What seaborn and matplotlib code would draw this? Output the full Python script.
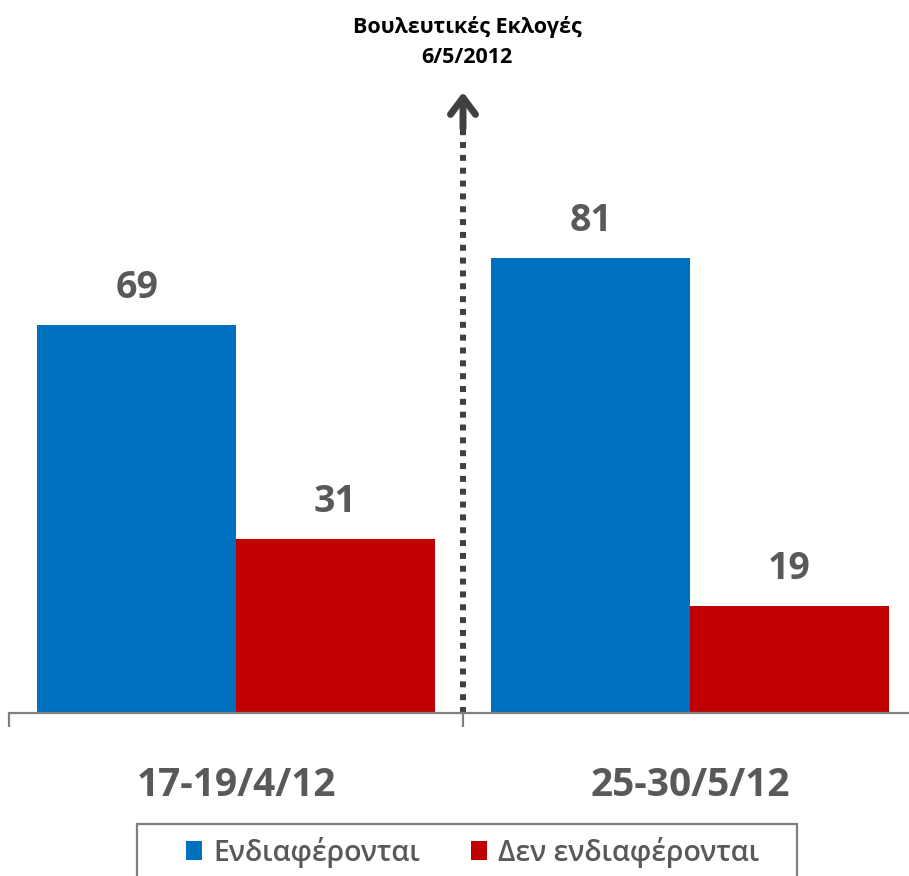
import matplotlib
matplotlib.use("Agg")
import matplotlib.pyplot as plt
import seaborn as sns
import pandas as pd
from matplotlib.patches import Patch, Rectangle

sns.set_theme(style="white")
plt.rcParams['font.family'] = ['Open Sans', 'DejaVu Sans']

# data
periods = ["17-19/4/12", "25-30/5/12"]
groups = ["Ενδιαφέρονται", "Δεν ενδιαφέρονται"]
interested = [69, 81]
not_interested = [31, 19]
colors = ["#0070C0", "#C00000"]
event_title = "Βουλευτικές Εκλογές\n6/5/2012"

df = pd.DataFrame({
    "period": periods * 2,
    "group": [groups[0]] * 2 + [groups[1]] * 2,
    "value": interested + not_interested,
})

text_gray = "#595959"
axis_gray = "#808080"

fig = plt.figure(figsize=(9.09, 8.76), dpi=100)
ax = fig.add_axes([9 / 909, 163 / 876, 908 / 909, 562 / 876])

sns.barplot(data=df, x="period", y="value", hue="group", palette=colors,
            width=0.875, saturation=1, linewidth=0, ax=ax, legend=False)

ax.set_ylim(0, 100)
ax.set_xlim(-0.5, 1.5)

for cont in ax.containers:
    ax.bar_label(cont, fmt="%d", padding=13, fontsize=27, fontweight="bold",
                 color=text_gray)

# axis styling
for side in ["left", "right", "top"]:
    ax.spines[side].set_visible(False)
ax.spines["bottom"].set_color(axis_gray)
ax.spines["bottom"].set_linewidth(1.6)
ax.set_yticks([])
ax.set_xlabel("")
ax.set_ylabel("")
ax.set_xticks([0, 1])
ax.set_xticklabels(periods, fontsize=28, fontweight="bold", color=text_gray)
ax.tick_params(axis="x", which="major", length=0, pad=38)
ax.set_xticks([-0.5, 0.5, 1.5], minor=True)
ax.tick_params(axis="x", which="minor", length=10, width=1.6, color=axis_gray,
               bottom=True)

# dotted arrow marking the election date
ax.plot([0.5, 0.5], [0, 106.5], color="#404040", lw=4.3,
        linestyle=(0, (1, 1.15)), solid_capstyle="butt",
        dash_capstyle="butt", clip_on=False)
ax.annotate("", xy=(0.5, 110.5), xytext=(0.5, 104),
            arrowprops=dict(arrowstyle="->,head_length=1.0,head_width=0.75",
                            lw=5, color="#404040", capstyle="round",
                            joinstyle="round", shrinkA=0, shrinkB=0),
            annotation_clip=False)

fig.text(467 / 909, 1 - 42 / 876, event_title, ha="center", va="center",
         fontsize=15.5, fontweight="bold", color="black", linespacing=1.55)

# legend with a separate frame (bottom edge falls off the figure)
fig.add_artist(Rectangle((137 / 909, 1 - 890 / 876), 660 / 909, 66 / 876,
                         transform=fig.transFigure, facecolor="none",
                         edgecolor=axis_gray, linewidth=1.6))
handles = [Patch(facecolor=c, edgecolor="none") for c in colors]
fig.legend(handles, groups, loc="center",
           bbox_to_anchor=(473 / 909, 1 - 852 / 876), ncol=2,
           prop={"size": 20.5, "weight": "semibold"}, frameon=False,
           handlelength=0.55, handleheight=0.65, handletextpad=0.4,
           columnspacing=1.8, borderpad=0, labelcolor=text_gray)

fig.savefig("out.png", dpi=100)
